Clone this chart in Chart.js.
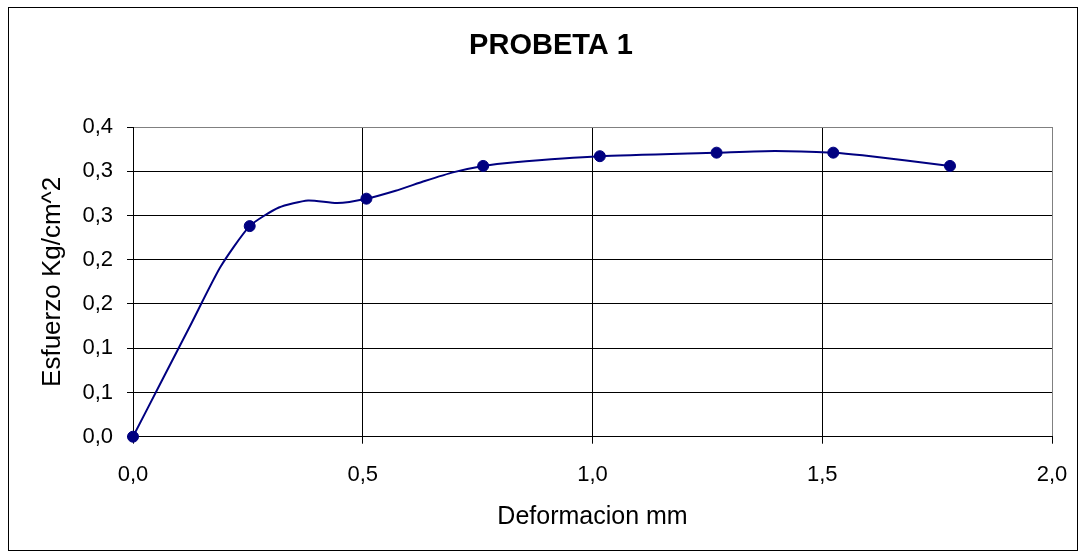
<!DOCTYPE html>
<html>
<head>
<meta charset="utf-8">
<script src="https://cdn.jsdelivr.net/npm/chart.js@4.4.1/dist/chart.umd.min.js"></script>
<style>
  html, body { margin: 0; padding: 0; background: #ffffff; }
  #wrap { width: 1086px; height: 559px; }
</style>
</head>
<body>
<div id="wrap"><canvas id="probetaChart" width="1086" height="559"></canvas></div>
<script>
// Deformation (mm) and stress (Kg/cm^2)
const lineX = [0, 0.0635, 0.127, 0.1905, 0.254, 0.3175, 0.381, 0.4445, 0.508, 0.5715, 0.635, 0.6985, 0.762, 0.8255, 1.016, 1.27, 1.397, 1.524, 1.5875, 1.778];
const lineY = [0, 0.064, 0.128, 0.192, 0.238, 0.259, 0.267, 0.264, 0.269, 0.278, 0.289, 0.299, 0.306, 0.310, 0.317, 0.321, 0.323, 0.321, 0.318, 0.306];

// measured points (markers)
const markerX = [0, 0.254, 0.508, 0.762, 1.016, 1.27, 1.524, 1.778];
const markerY = [0, 0.238, 0.269, 0.306, 0.317, 0.321, 0.321, 0.306];

// tick labels as printed on the chart
const xTickLabels = ['0,0', '0,5', '1,0', '1,5', '2,0'];
const yTickLabels = ['0,0', '0,1', '0,1', '0,2', '0,2', '0,3', '0,3', '0,4'];

const navy = '#000080';
const fontFamily = '"Liberation Sans", Arial, sans-serif';

// white background plus the outer frame of the chart
const framePlugin = {
    id: 'frame',
    beforeDraw(chart) {
        const c = chart.ctx;
        c.save();
        c.fillStyle = '#ffffff';
        c.fillRect(0, 0, chart.width, chart.height);
        c.strokeStyle = '#000000';
        c.lineWidth = 1;
        c.strokeRect(8.5, 7.5, 1069, 543);
        c.restore();
    }
};

const ctx = document.getElementById('probetaChart').getContext('2d');
const probetaChart = new Chart(ctx, {
    type: 'scatter',
    data: {
        datasets: [{
            label: 'Curva',
            data: lineX.map((x, i) => ({ x: x, y: lineY[i] })),
            showLine: true,
            borderColor: navy,
            borderWidth: 2,
            pointRadius: 0,
            tension: 0.2
        },
        {
            label: 'Probeta 1',
            data: markerX.map((x, i) => ({ x: x, y: markerY[i] })),
            showLine: false,
            clip: false,
            pointRadius: 5.5,
            pointBackgroundColor: navy,
            pointBorderColor: navy
        }]
    },
    options: {
        responsive: false,
        animation: false,
        layout: {
            padding: { left: 16, right: 0, top: 7, bottom: 22.3 }
        },
        plugins: {
            legend: { display: false },
            tooltip: { enabled: false },
            title: {
                display: true,
                text: 'PROBETA 1',
                color: '#000000',
                font: { family: fontFamily, size: 29, weight: 'bold' },
                padding: { top: 21.6, bottom: 63.6 }
            }
        },
        scales: {
            x: {
                type: 'linear',
                min: 0,
                max: 2,
                afterFit(scale) { scale.height = 100; },
                ticks: {
                    stepSize: 0.5,
                    color: '#000000',
                    padding: 18,
                    font: { family: fontFamily, size: 22 },
                    callback: (value, index) => xTickLabels[index]
                },
                grid: {
                    color: (c) => (c.index === xTickLabels.length - 1 ? '#808080' : '#000000'),
                    tickColor: '#000000',
                    tickLength: 7,
                    lineWidth: 1
                },
                border: { display: true, color: '#000000', width: 1 },
                title: {
                    display: true,
                    text: 'Deformacion mm',
                    color: '#000000',
                    font: { family: fontFamily, size: 25 },
                    padding: { top: 0, bottom: 4.7 }
                }
            },
            y: {
                type: 'linear',
                min: 0,
                max: 0.35,
                afterFit(scale) { scale.width = 117; },
                ticks: {
                    stepSize: 0.05,
                    color: '#000000',
                    padding: 14,
                    font: { family: fontFamily, size: 22 },
                    callback: (value, index) => yTickLabels[index]
                },
                grid: {
                    color: (c) => (c.index === yTickLabels.length - 1 ? '#808080' : '#000000'),
                    tickColor: '#000000',
                    tickLength: 6,
                    lineWidth: 1
                },
                border: { display: true, color: '#000000', width: 1 },
                title: {
                    display: true,
                    text: 'Esfuerzo Kg/cm^2',
                    color: '#000000',
                    font: { family: fontFamily, size: 26 },
                    padding: { top: 21, bottom: 0 }
                }
            },
            // empty right-hand box so the title centres like the original
            yRight: {
                type: 'linear',
                position: 'right',
                display: true,
                afterFit(scale) { scale.width = 34; },
                ticks: { display: false },
                grid: { display: false },
                border: { display: false }
            }
        }
    },
    plugins: [framePlugin]
});
</script>
</body>
</html>
